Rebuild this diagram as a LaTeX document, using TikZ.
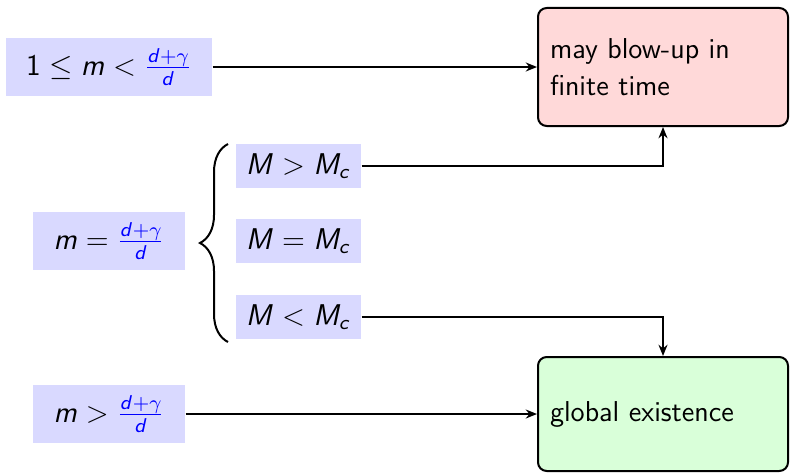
\documentclass[tikz,border=0pt]{standalone}
\usetikzlibrary{
  arrows.meta,
  positioning,
  decorations.pathreplacing
}
\renewcommand{\familydefault}{\sfdefault}
% sans serif math letters and operators
\DeclareSymbolFont{sfletters}{OT1}{cmss}{m}{sl}
\SetSymbolFont{operators}{normal}{OT1}{cmss}{m}{n}
\DeclareMathSymbol{m}{\mathalpha}{sfletters}{`m}
\DeclareMathSymbol{d}{\mathalpha}{sfletters}{`d}
\DeclareMathSymbol{c}{\mathalpha}{sfletters}{`c}
\DeclareMathSymbol{M}{\mathalpha}{sfletters}{`M}
\newcommand{\crit}{\textcolor{blue}{\frac{d+\gamma}{d}}}

\begin{document}
\begin{tikzpicture}[
  x=0.4pt, y=-0.4pt,
  font=\fontsize{11.5pt}{15pt}\selectfont,
  cond/.style={
    rectangle, fill=blue!15,
    minimum width=60.8pt, minimum height=23.2pt, align=center
  },
  massbox/.style={
    rectangle, fill=blue!15,
    minimum width=50pt, minimum height=17.6pt
  },
  outcome/.style={
    rectangle, rounded corners=3.5pt, draw=black, thick,
    text width=90.4pt, inner sep=4.8pt, align=left
  },
  feed/.style={-{Stealth[length=4.5pt, width=3.6pt]}, thick},
]
\useasboundingbox (0,0) rectangle (790,473);

% Outcomes (right column)
\node[outcome, fill=red!15, minimum height=47.2pt] (blowup) at (663,67)
  {may blow-up in\\ finite time};
\node[outcome, fill=green!15, minimum height=45.6pt] (global) at (663,414)
  {global existence};

% Conditions on m (left column)
\node[cond, minimum width=82.4pt] (sub)  at (109,67)  {$1 \le m < \crit$};
\node[cond]                       (crit) at (109,241) {$m = \crit$};
\node[cond]                       (sup)  at (109,414) {$m > \crit$};

% Critical case: split by mass
\node[massbox] (mgt) at (298.5,166) {$M > M_c$};
\node[massbox] (meq) at (298.5,241) {$M = M_c$};
\node[massbox] (mlt) at (298.5,317) {$M < M_c$};

\coordinate (bracebot) at (228,342);
\coordinate (bracetop) at (228,144);
\draw[thick, decorate, decoration={brace, amplitude=11.2pt}]
  (bracebot) -- (bracetop);

% Arrows to outcomes
\draw[feed] (sub.east) -- (blowup.west);
\draw[feed] (sup.east) -- (global.west);
\draw[feed] (mgt.east) -| (blowup.south);
\draw[feed] (mlt.east) -| (global.north);

\end{tikzpicture}
\end{document}
